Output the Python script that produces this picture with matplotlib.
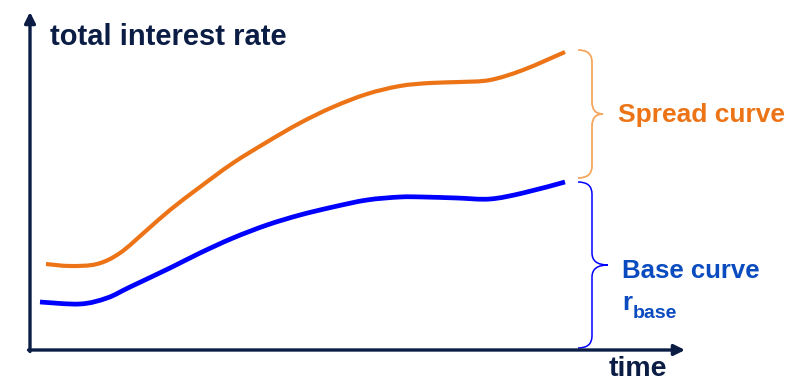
import numpy as np
import matplotlib.pyplot as plt
from matplotlib.path import Path
from matplotlib.patches import PathPatch

# curve values (time, rate), origin at the axes corner
spread_t = [16, 40, 67, 90, 117, 140, 170, 203, 237, 270, 303, 337, 370, 400, 430, 460, 493, 535]
spread_r = [86, 84, 86, 97, 120, 140, 163, 187, 208, 227, 243, 256, 264, 267, 268, 270, 280, 298]

base_t = [10, 50, 77, 100, 140, 170, 203, 237, 270, 303, 337, 370, 393, 427, 460, 493, 535]
base_r = [48, 46, 52, 63, 82, 97, 112, 125, 135, 143, 150, 153, 153, 152, 151, 157, 168]

NAVY = "#0b1d45"
ORANGE = "#ec7417"
ORANGE_LIGHT = "#f5a760"
BLUE = "#0000ff"
BLUE_TEXT = "#0a4cbf"

plt.rcParams["font.family"] = ["Liberation Sans", "DejaVu Sans"]

fig = plt.figure(figsize=(7.96, 3.81), dpi=100)
ax = fig.add_axes([0, 0, 1, 1])
ax.set_xlim(-30, 766)
ax.set_ylim(-31, 350)
ax.axis("off")

# axes with arrow heads
arrow = dict(arrowstyle="-|>", color=NAVY, lw=2.4, mutation_scale=16, shrinkA=0, shrinkB=0)
ax.annotate("", xy=(0, 338), xytext=(0, -1.5), arrowprops=arrow)
ax.annotate("", xy=(655, 0), xytext=(-1.5, 0), arrowprops=arrow)


def smooth_curve(t, r, color, lw):
    # draw the read points as a Catmull-Rom bezier path so the line looks smooth
    p = np.column_stack([t, r]).astype(float)
    ext = np.vstack([p[0], p, p[-1]])
    verts = [tuple(p[0])]
    codes = [Path.MOVETO]
    for i in range(1, len(ext) - 2):
        c1 = ext[i] + (ext[i + 1] - ext[i - 1]) / 6
        c2 = ext[i + 1] - (ext[i + 2] - ext[i]) / 6
        verts += [tuple(c1), tuple(c2), tuple(ext[i + 1])]
        codes += [Path.CURVE4] * 3
    ax.add_patch(PathPatch(Path(verts, codes), fill=False, ec=color, lw=lw, capstyle="butt"))


smooth_curve(spread_t, spread_r, ORANGE, 3.0)
smooth_curve(base_t, base_r, BLUE, 3.4)


def brace(x0, x1, xt, top, bottom, color, lw):
    mid = (top + bottom) / 2
    k = 12
    verts = [(x0, top), (x1, top), (x1, top - k),
             (x1, mid + k), (x1, mid), (xt, mid),
             (x1, mid), (x1, mid - k),
             (x1, bottom + k), (x1, bottom), (x0, bottom)]
    codes = [Path.MOVETO, Path.CURVE3, Path.CURVE3,
             Path.LINETO, Path.CURVE3, Path.CURVE3,
             Path.CURVE3, Path.CURVE3,
             Path.LINETO, Path.CURVE3, Path.CURVE3]
    ax.add_patch(PathPatch(Path(verts, codes), fill=False, ec=color, lw=lw))


brace(548, 562, 573, 300, 172, ORANGE_LIGHT, 1.3)
brace(548, 562, 578, 168, 2, BLUE, 1.1)

ax.text(20, 305, "total interest rate", color=NAVY, fontsize=21, fontweight="bold",
        ha="left", va="baseline")
ax.text(579, -26, "time", color=NAVY, fontsize=20.5, fontweight="bold",
        ha="left", va="baseline")
ax.text(588, 235, "Spread curve", color=ORANGE, fontsize=19, fontweight="bold",
        ha="left", va="center")
ax.text(592, 72, "Base curve", color=BLUE_TEXT, fontsize=18.5, fontweight="bold",
        ha="left", va="baseline")
ax.text(592, 40, "r", color=BLUE_TEXT, fontsize=18.5, fontweight="bold",
        ha="left", va="baseline")
ax.text(603, 32, "base", color=BLUE_TEXT, fontsize=14, fontweight="bold",
        ha="left", va="baseline")

fig.savefig("out.png", dpi=100)
